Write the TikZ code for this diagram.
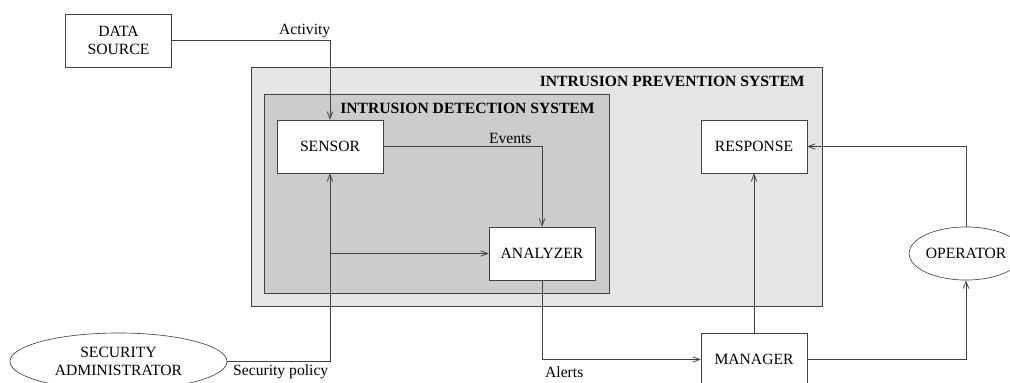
\documentclass[tikz,border=0pt]{standalone}
\usepackage{fontspec}
\setmainfont{Liberation Serif}
\usetikzlibrary{arrows.meta,shapes.geometric}

\begin{document}
\begin{tikzpicture}[x=0.64pt, y=-0.64pt,
    box/.style={draw=black!75, fill=white, minimum width=67.8pt,
      minimum height=33.9pt, inner sep=1pt, align=center},
    actor/.style={draw=black!75, fill=white, ellipse, inner sep=0pt,
      align=center},
    flow/.style={draw=black!75, line width=0.5pt,
      -{Straight Barb[length=4.5pt,width=3.5pt]}},
    flowlabel/.style={inner sep=1.5pt},
    zonetitle/.style={font=\bfseries, inner sep=0pt, anchor=east}]
  \useasboundingbox (0,0) rectangle (1010,383);

  % the two systems
  \draw[draw=black!75, fill=black!10] (251,67) rectangle (822,306);
  \node[zonetitle] (ipstitle) at (805,81) {INTRUSION PREVENTION SYSTEM};
  \draw[draw=black!75, fill=black!20] (264,94) rectangle (609,293);
  \node[zonetitle] (idstitle) at (595,108) {INTRUSION DETECTION SYSTEM};

  \node[box] (source) at (118.5,40.5) {DATA\\SOURCE};
  \node[box] (sensor) at (330,146.5) {SENSOR};
  \node[box] (analyzer) at (542,253.5) {ANALYZER};
  \node[box] (response) at (754,146.5) {RESPONSE};
  \node[box] (manager) at (754,359.5) {MANAGER};
  \node[actor, minimum width=138.9pt, minimum height=36.5pt] (admin)
    at (118.5,361.5) {SECURITY\\ADMINISTRATOR};
  \node[actor, minimum width=70pt, minimum height=34pt] (operator)
    at (966,253.5) {OPERATOR};

  \coordinate (split) at (sensor.south |- analyzer.west);

  \draw[flow] (source.east) -| node[flowlabel, pos=0.42, above] {Activity}
    (sensor.north);
  \draw[flow] (sensor.east) -| node[flowlabel, pos=0.4, above] {Events}
    (analyzer.north);
  \draw[flow] (admin.east) -| node[flowlabel, pos=0.26, below]
    {Security policy} (sensor.south);
  \draw[flow] (split) -- (analyzer.west);
  \draw[flow] (analyzer.south) |- node[flowlabel, pos=0.57, below,
    yshift=-3pt] {Alerts} (manager.west);
  \draw[flow] (manager.north) -- (response.south);
  \draw[flow] (manager.east) -| (operator.south);
  \draw[flow] (operator.north) |- (response.east);
\end{tikzpicture}
\end{document}
